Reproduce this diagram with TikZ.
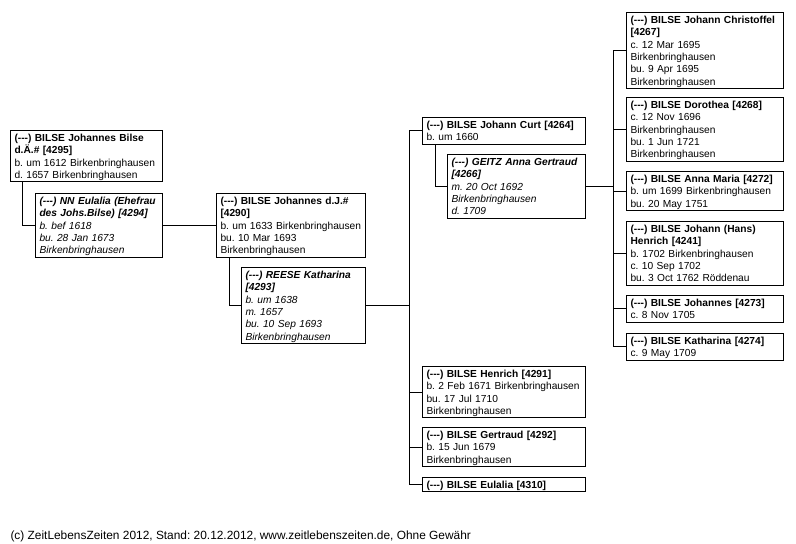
\documentclass[tikz,border=0pt]{standalone}
\usepackage{fontspec}
\setmainfont{Liberation Sans}
\usepackage{tikz}
\frenchspacing
\hyphenpenalty=10000

\newcommand{\unk}{(-{}-{}-)}
\newcommand{\lnstrut}{\rule[-2.6pt]{0pt}{12.4pt}}
\newcommand{\boxfont}{\fontsize{10.2pt}{12.4pt}\selectfont}

\begin{document}
\begin{tikzpicture}[x=1pt, y=-1pt, line width=1pt,
      person/.style={draw, anchor=north west, align=left, inner xsep=4pt,
                     inner ysep=0.9pt, text width=#1, font=\boxfont,
                     execute at begin node=\lnstrut, execute at end node=\lnstrut},
      spouse/.style={person=#1, font=\boxfont\itshape},
      foot/.style={anchor=base west, inner sep=0pt, font=\fontsize{11.9pt}{14pt}\selectfont}]

    \useasboundingbox (0,0) rectangle (796,544);
    \fill[white] (0,0) rectangle (796,544);

    % ---- Layout ----
    \def\xR{626}      % right column x
    \def\wR{149pt}    % right column text width

    % ---- grandparents ----
    \node[person=144pt] (p4295) at (10,130)
      {\textbf{\unk{} BILSE Johannes Bilse}\\\textbf{d.Ä.\# [4295]}\\b. um 1612 Birkenbringhausen\\d. 1657 Birkenbringhausen};
    \node[spouse=119pt] (p4294) at (35,193)
      {\textbf{\unk{} NN Eulalia (Ehefrau}\\\textbf{des Johs.Bilse) [4294]}\\b. bef 1618\\bu. 28 Jan 1673\\Birkenbringhausen};

    % ---- parents ----
    \node[person=141pt] (p4290) at (216,193)
      {\textbf{\unk{} BILSE Johannes d.J.\#}\\\textbf{[4290]}\\b. um 1633 Birkenbringhausen\\bu. 10 Mar 1693\\Birkenbringhausen};
    \node[spouse=116pt] (p4293) at (241,267)
      {\textbf{\unk{} REESE Katharina}\\\textbf{[4293]}\\b. um 1638\\m. 1657\\bu. 10 Sep 1693\\Birkenbringhausen};

    % ---- children ----
    \node[person=155pt] (p4264) at (422,117)
      {\textbf{\unk{} BILSE Johann Curt [4264]}\\b. um 1660};
    \node[spouse=130pt] (p4266) at (447,154)
      {\textbf{\unk{} GEITZ Anna Gertraud}\\\textbf{[4266]}\\m. 20 Oct 1692\\Birkenbringhausen\\d. 1709};
    \node[person=155pt] (p4291) at (422,366)
      {\textbf{\unk{} BILSE Henrich [4291]}\\b. 2 Feb 1671 Birkenbringhausen\\bu. 17 Jul 1710\\Birkenbringhausen};
    \node[person=155pt] (p4292) at (422,427)
      {\textbf{\unk{} BILSE Gertraud [4292]}\\b. 15 Jun 1679\\Birkenbringhausen};
    \node[person=155pt] (p4310) at (422,477)
      {\textbf{\unk{} BILSE Eulalia [4310]}};

    % ---- grandchildren ----
    \node[person=\wR] (p4267) at (\xR,12)
      {\textbf{\unk{} BILSE Johann Christoffel}\\\textbf{[4267]}\\c. 12 Mar 1695\\Birkenbringhausen\\bu. 9 Apr 1695\\Birkenbringhausen};
    \node[person=\wR] (p4268) at (\xR,97)
      {\textbf{\unk{} BILSE Dorothea [4268]}\\c. 12 Nov 1696\\Birkenbringhausen\\bu. 1 Jun 1721\\Birkenbringhausen};
    \node[person=\wR] (p4272) at (\xR,171)
      {\textbf{\unk{} BILSE Anna Maria [4272]}\\b. um 1699 Birkenbringhausen\\bu. 20 May 1751};
    \node[person=\wR] (p4241) at (\xR,221)
      {\textbf{\unk{} BILSE Johann (Hans)}\\\textbf{Henrich [4241]}\\b. 1702 Birkenbringhausen\\c. 10 Sep 1702\\bu. 3 Oct 1762 Röddenau};
    \node[person=\wR] (p4273) at (\xR,295)
      {\textbf{\unk{} BILSE Johannes [4273]}\\c. 8 Nov 1705};
    \node[person=\wR] (p4274) at (\xR,333)
      {\textbf{\unk{} BILSE Katharina [4274]}\\c. 9 May 1709};

    % ---- couple links ----
    \draw ([xshift=12pt]p4295.south west) |- (p4294.west);
    \draw (p4294.east) -- (p4290.west);
    \draw ([xshift=13pt]p4290.south west) |- (p4293.west);
    \draw ([xshift=13pt]p4264.south west) |- (p4266.west);

    % ---- child buses ----
    \coordinate (busA) at (409,0);
    \draw (p4293.east) -- (p4293.east -| busA);
    \draw (p4264.west -| busA) -- (p4310.west -| busA);
    \foreach \c in {p4264,p4291,p4292,p4310}
      \draw (\c.west -| busA) -- (\c.west);

    \coordinate (busB) at (613,0);
    \draw (p4266.east) -- (p4266.east -| busB);
    \draw (p4267.west -| busB) -- (p4274.west -| busB);
    \foreach \c in {p4267,p4268,p4272,p4241,p4273,p4274}
      \draw (\c.west -| busB) -- (\c.west);

    % ---- footer ----
    \node[foot] (footer) at (10,539)
      {(c) ZeitLebensZeiten 2012, Stand: 20.12.2012, www.zeitlebenszeiten.de, Ohne Gewähr};

\end{tikzpicture}
\end{document}
